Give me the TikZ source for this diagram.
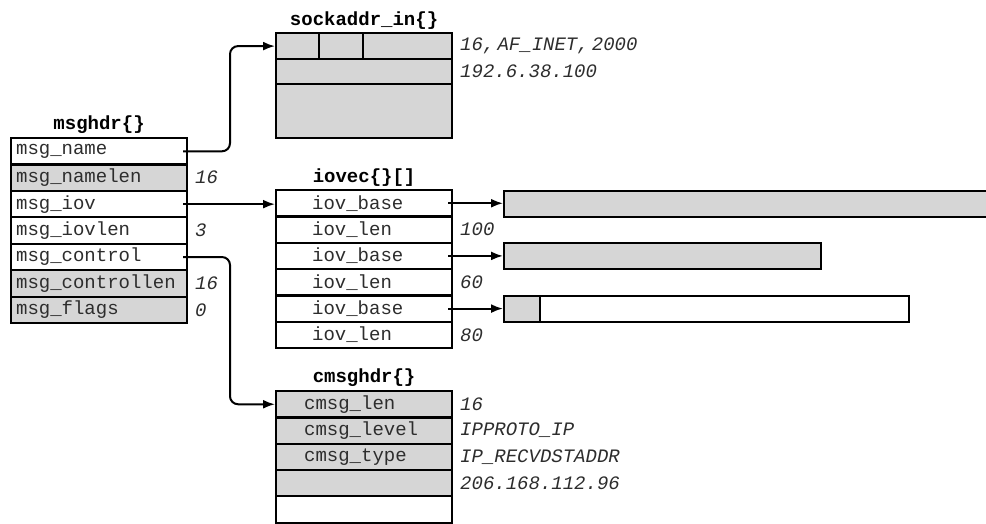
\documentclass[tikz,border=0pt]{standalone}
\usepackage{fontspec}
\setmonofont{Liberation Mono}
\usetikzlibrary{positioning,arrows.meta}
\definecolor{cellgray}{RGB}{214,214,214}
\definecolor{inkgray}{RGB}{45,45,45}

\begin{document}
\begin{tikzpicture}[x=1pt,y=-1pt,line width=2pt,
  cell/.style={draw,line width=2.2pt,fill=white,anchor=north west,inner xsep=0pt,inner ysep=0pt,
    text width=176pt,minimum height=26.4pt,align=left,text=inkgray,
    font=\ttfamily\fontsize{19}{22}\selectfont,execute at begin node={\noindent\hspace*{#1}}},
  cell/.default=5pt,
  val/.style={inner sep=0pt,text=inkgray,font=\ttfamily\itshape\fontsize{19}{22}\selectfont},
  title/.style={inner sep=1pt,font=\ttfamily\bfseries\fontsize{19}{22}\selectfont},
  bar/.style={draw,line width=2pt,anchor=north west,minimum height=25.5pt,inner sep=0pt},
  conn/.style={-{Latex[length=12pt,width=9pt]},line width=2pt}]
\useasboundingbox (0,0) rectangle (986,523);

\foreach \i/\t/\f in {1/msg\_name/white,2/msg\_namelen/cellgray,3/msg\_iov/white,
    4/msg\_iovlen/white,5/msg\_control/white,6/msg\_controllen/cellgray,7/msg\_flags/cellgray}
  \node[cell,fill=\f] (m\i) at (10,{137+(\i-1)*26.43}) {\t};
\node[title,above=1pt of m1] (tmsg) {msghdr\{\}};
\node[val,right=6pt of m2] (v2) {16};
\node[val,right=6pt of m4] (v4) {3};
\node[val,right=6pt of m6] (v6) {16};
\node[val,right=6pt of m7] (v7) {0};

\node[cell,fill=cellgray,minimum height=26pt] (s1) at (275,32) {};
\node[cell,fill=cellgray,minimum height=25pt] (s2) at (275,58) {};
\node[cell,fill=cellgray,minimum height=54pt] (s3) at (275,83) {};
\draw[line width=2.2pt] ([xshift=44pt]s1.north west) -- ([xshift=44pt]s1.south west)
  ([xshift=88pt]s1.north west) -- ([xshift=88pt]s1.south west);
\node[title,above=1pt of s1] (tsock) {sockaddr\_in\{\}};
\node[val,right=6pt of s1] (vs1) {16,\,AF\_INET,\,2000};
\node[val,right=6pt of s2] (vs2) {192.6.38.100};

\foreach \i/\t in {1/iov\_base,2/iov\_len,3/iov\_base,4/iov\_len,5/iov\_base,6/iov\_len}
  \node[cell=36pt,minimum height=26.3pt] (i\i) at (275,{189+(\i-1)*26.33}) {\t};
\node[title,above=1pt of i1] (tiov) {iovec\{\}[]};
\node[val,right=6pt of i2] (vi2) {100};
\node[val,right=6pt of i4] (vi4) {60};
\node[val,right=6pt of i6] (vi6) {80};

\node[bar,fill=cellgray,minimum width=495pt] (b1) at (503,190) {};
\node[bar,fill=cellgray,minimum width=317pt] (b2) at (503,242) {};
\node[bar,fill=white,minimum width=405pt] (b3) at (503,295) {};
\node[bar,fill=cellgray,minimum width=36pt] (b3g) at (503,295) {};

\foreach \i/\t/\f in {1/cmsg\_len/cellgray,2/cmsg\_level/cellgray,3/cmsg\_type/cellgray,
    4/{}/cellgray,5/{}/white}
  \node[cell=28pt,fill=\f,minimum height=26.3pt] (c\i) at (275,{390+(\i-1)*26.3}) {\t};
\node[title,above=1pt of c1] (tcmsg) {cmsghdr\{\}};
\node[val,right=6pt of c1] (vc1) {16};
\node[val,right=6pt of c2] (vc2) {IPPROTO\_IP};
\node[val,right=6pt of c3] (vc3) {IP\_RECVDSTADDR};
\node[val,right=6pt of c4] (vc4) {206.168.112.96};

\draw[conn,rounded corners=8pt] ([xshift=-5pt]m1.east) -| ([xshift=-45pt]s1.west) -- (s1.west);
\draw[conn] ([xshift=-5pt]m3.east) -- (m3.east -| i1.west);
\draw[conn,rounded corners=8pt] ([xshift=-5pt]m5.east) -| ([xshift=-45pt]c1.west) -- (c1.west);
\draw[conn] ([xshift=-5pt]i1.east) -- (i1.east -| b1.west);
\draw[conn] ([xshift=-5pt]i3.east) -- (i3.east -| b2.west);
\draw[conn] ([xshift=-5pt]i5.east) -- (i5.east -| b3.west);
\end{tikzpicture}
\end{document}
